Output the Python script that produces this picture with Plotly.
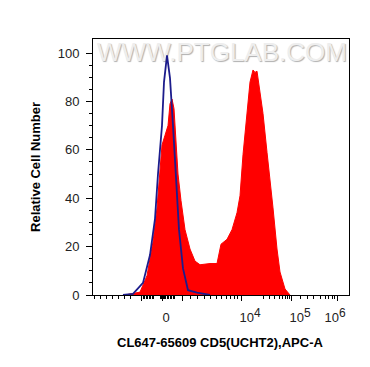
import plotly.graph_objects as go

# ---- data (x in display channels 0-1024 of the biexponential APC-A scale) ----
stained_ch = [128, 148, 188, 216, 240, 256, 268, 276, 288, 300, 308, 316, 324, 332, 340, 352,
              368, 388, 408, 428, 468, 496, 512, 536, 556, 576, 588, 600, 616, 628, 640, 648,
              656, 664, 676, 680, 696, 708, 720, 736, 748, 768, 788]
stained_cnt = [0, 0.5, 1.2, 8, 22, 36, 52, 62, 66, 70, 79, 81, 77, 63, 50, 39,
               27, 19, 14, 12.5, 13, 13, 21, 23, 27, 34, 41, 58, 75, 88, 93, 92,
               92.5, 87, 77, 75, 59, 46, 36, 19, 9.5, 2.5, 0]

control_ch = [120, 160, 200, 228, 248, 260, 276, 284, 296, 308, 320, 332, 344, 360, 380, 416, 448, 468]
control_cnt = [0, 0.5, 5, 16.5, 31.5, 50, 70, 88, 99, 89.6, 70, 47, 27, 11, 2, 1, 0.3, 0]

major_tick_ch = [192, 276, 356, 592, 792, 978]
minor_tick_ch = [6, 30, 54, 78, 102, 126, 150,
                 200, 206, 212, 218, 224, 230, 236, 242,
                 268, 272, 280, 284,
                 290, 296, 302, 308, 314, 320, 326,
                 388, 416, 444, 468, 492, 512, 532, 548, 564, 576,
                 683, 704, 727, 744, 758, 768, 776, 784,
                 828, 856, 883, 908, 928, 943, 956, 967]
label_ch = [292, 628, 828, 968]
label_text = ["0",
              "10<sup><span style='font-size:12px'>4</span></sup>",
              "10<sup><span style='font-size:12px'>5</span></sup>",
              "10<sup><span style='font-size:12px'>6</span></sup>"]

y_major = [0, 20, 40, 60, 80, 100]
y_minor = [5, 10, 15, 25, 30, 35, 45, 50, 55, 65, 70, 75, 85, 90, 95]

FONT = "Arial, Liberation Sans, sans-serif"

fig = go.Figure()

# watermark (drawn first so data sits on top)
fig.add_trace(go.Scatter(
    x=[516], y=[99.2], mode="text", text=["WWW.PTGLAB.COM"],
    textfont=dict(family=FONT, size=26, color="#eeeeee", shadow="1px 1px 1px #b0b0b0"),
    hoverinfo="skip", showlegend=False, cliponaxis=False))

fig.add_trace(go.Scatter(
    x=stained_ch, y=stained_cnt, mode="lines", fill="tozeroy",
    line=dict(color="#ff0000", width=1), fillcolor="#ff0000",
    showlegend=False, hoverinfo="skip"))

fig.add_trace(go.Scatter(
    x=control_ch, y=control_cnt, mode="lines",
    line=dict(color="#1c1c8c", width=1.8),
    showlegend=False, hoverinfo="skip"))

# invisible trace to anchor label axis
fig.add_trace(go.Scatter(x=[0], y=[0], xaxis="x2", mode="markers",
                         marker=dict(opacity=0), showlegend=False, hoverinfo="skip"))

# page body has an 8px default margin, so margins are reduced by 8px on left/top
fig.update_layout(
    width=370, height=367,
    margin=dict(l=85, r=29, t=31, b=80, autoexpand=False),
    paper_bgcolor="white", plot_bgcolor="white",
    font=dict(family=FONT),
    xaxis=dict(
        range=[0, 1024], showgrid=False, zeroline=False,
        showline=True, linecolor="black", linewidth=1, mirror=True,
        tickmode="array", tickvals=major_tick_ch, ticks="outside", ticklen=5,
        tickcolor="black", tickwidth=1, showticklabels=False,
        minor=dict(tickmode="array", tickvals=minor_tick_ch, ticks="outside",
                   ticklen=3, tickcolor="black", tickwidth=1, showgrid=False),
    ),
    xaxis2=dict(
        range=[0, 1024], overlaying="x", side="bottom", anchor="y",
        showgrid=False, zeroline=False, showline=False,
        tickmode="array", tickvals=label_ch, ticktext=label_text, ticks="",
        tickfont=dict(family=FONT, size=13, color="#222222"),
        ticklabelstandoff=13,
    ),
    yaxis=dict(
        range=[0, 105.8], showgrid=False, zeroline=False,
        showline=True, linecolor="black", linewidth=1, mirror=True,
        tickmode="array", tickvals=y_major, ticks="outside", ticklen=6,
        tickcolor="black", tickwidth=1,
        tickfont=dict(family=FONT, size=13, color="#222222"),
        ticklabelstandoff=4,
        minor=dict(tickmode="array", tickvals=y_minor, ticks="outside",
                   ticklen=3, tickcolor="black", tickwidth=1, showgrid=False),
    ),
    annotations=[
        dict(text="Relative Cell Number", xref="paper", yref="paper",
             x=-0.2266, y=0.5, xanchor="center", yanchor="middle", textangle=-90,
             showarrow=False, font=dict(family=FONT, size=13, color="black", weight="bold")),
        dict(text="CL647-65609 CD5(UCHT2),APC-A", xref="paper", yref="paper",
             x=0.496, y=-0.1836, xanchor="center", yanchor="middle",
             showarrow=False, font=dict(family=FONT, size=13, color="black", weight="bold")),
    ],
)

fig.write_html("out.html")
